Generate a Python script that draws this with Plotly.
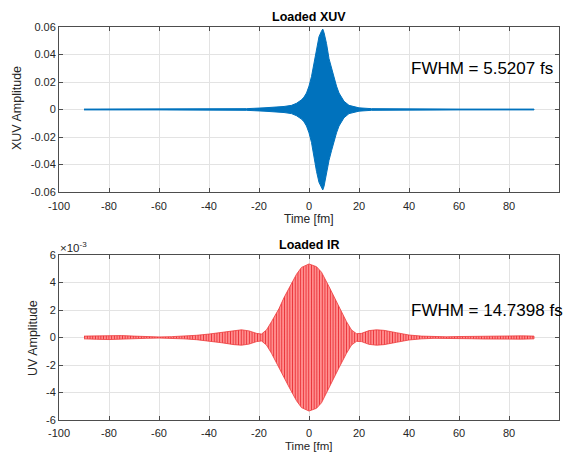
import plotly.graph_objects as go

# Envelope of the loaded XUV field (time in fs, amplitude)
xuv_t = [-90, -60, -40, -25, -18, -14, -10, -7, -5, -3, -2, -1, 0, 1, 2, 3, 4, 5, 5.5,
         6, 7, 8, 9, 10, 11, 12, 13, 14, 16, 18, 20, 25, 40, 60, 90]
xuv_env = [0.0003, 0.0003, 0.0004, 0.0006, 0.0012, 0.0015, 0.0022, 0.0030, 0.0045, 0.0070,
           0.0090, 0.0120, 0.0170, 0.0240, 0.0340, 0.0450, 0.0530, 0.0570, 0.0585,
           0.0560, 0.0480, 0.0370, 0.0300, 0.0230, 0.0170, 0.0120, 0.0090, 0.0060,
           0.0030, 0.0020, 0.0012, 0.0006, 0.0004, 0.0003, 0.0003]

# Envelope of the loaded IR field (time in fs, amplitude in units of 1e-3)
ir_t = [-90, -85, -80, -75, -70, -65, -60, -55, -50, -45, -40, -35, -30, -27, -24, -21,
        -19, -17, -15, -12, -10, -8, -5, -3, 0, 3, 5, 8, 10, 12, 15, 17, 19, 21, 24, 27,
        30, 35, 40, 45, 50, 55, 60, 65, 70, 75, 80, 85, 90]
ir_env_e3 = [0.10, 0.13, 0.15, 0.14, 0.10, 0.06, 0.04, 0.06, 0.10, 0.16, 0.25, 0.38, 0.52,
             0.56, 0.48, 0.30, 0.25, 0.55, 1.15, 2.10, 2.90, 3.60, 4.60, 5.10, 5.35, 5.15,
             4.75, 3.70, 2.95, 2.20, 1.15, 0.55, 0.28, 0.30, 0.50, 0.56, 0.52, 0.35, 0.18,
             0.10, 0.06, 0.05, 0.07, 0.09, 0.11, 0.13, 0.13, 0.12, 0.10]

xuv_fwhm = 5.5207
ir_fwhm = 14.7398

x_ticks = [-100, -80, -60, -40, -20, 0, 20, 40, 60, 80, 100]
xuv_yticks = [-0.06, -0.04, -0.02, 0, 0.02, 0.04, 0.06]
xuv_yticktext = ["-0.06", "-0.04", "-0.02", "0", "0.02", "0.04", "0.06"]
ir_yticks_e3 = [-6, -4, -2, 0, 2, 4, 6]

W, H = 563, 452
ML, MR = 59, 4
PW = W - ML - MR
FONT = "Liberation Sans, Arial, Helvetica, sans-serif"
AXC = "#4d4d4d"
TXT = "#262626"
GRID = "#e3e3e3"


def band(t, env):
    # closed polygon: upper envelope forward, mirrored lower envelope back
    xs = list(t) + list(t[::-1])
    ys = list(env) + [-v for v in env[::-1]]
    return xs, ys


fig = go.Figure()

bx, by = band(xuv_t, xuv_env)
fig.add_trace(go.Scatter(
    x=bx, y=by, fill="toself", mode="lines",
    line=dict(color="#0072BD", width=1), fillcolor="#0072BD",
    xaxis="x", yaxis="y", hoverinfo="skip", showlegend=False))

ir_env = [v * 1e-3 for v in ir_env_e3]
ix, iy = band(ir_t, ir_env)
fig.add_trace(go.Scatter(
    x=ix, y=iy, fill="toself", mode="lines",
    line=dict(color="#ee3a3a", width=0.8),
    fillcolor="#ff8a8a",
    fillpattern=dict(shape="|", size=2.7, solidity=0.3,
                     fgcolor="#e8262c", bgcolor="#ff8e8e", fillmode="replace"),
    xaxis="x2", yaxis="y2", hoverinfo="skip", showlegend=False))


def py_paper(py):
    return 1 - py / H


def px_paper(px):
    return (px - ML) / PW


def xaxis_cfg(anchor, standoff):
    return dict(
        range=[-100, 100], tickvals=x_ticks, ticktext=[str(v) for v in x_ticks],
        showgrid=True, gridcolor=GRID, gridwidth=1, zeroline=False,
        showline=True, linecolor=AXC, linewidth=1, mirror="ticks",
        ticks="inside", ticklen=4, tickcolor=AXC, ticklabelstandoff=standoff,
        tickfont=dict(family=FONT, size=11, color=TXT),
        anchor=anchor, domain=[0, 1])


def yaxis_cfg(anchor, dom, rng, vals, text):
    return dict(
        range=rng, tickvals=vals, ticktext=text, domain=dom, anchor=anchor,
        showgrid=True, gridcolor=GRID, zeroline=False,
        showline=True, linecolor=AXC, linewidth=1, mirror="ticks",
        ticks="inside", ticklen=4, tickcolor=AXC,
        tickfont=dict(family=FONT, size=11, color=TXT))


top_dom = [py_paper(192), py_paper(27)]
bot_dom = [py_paper(420), py_paper(255)]

fig.update_layout(
    width=W, height=H,
    margin=dict(l=ML, r=MR, t=0, b=0, autoexpand=False),
    paper_bgcolor="white", plot_bgcolor="white",
    font=dict(family=FONT, color=TXT),
    xaxis=xaxis_cfg("y", 4),
    xaxis2=xaxis_cfg("y2", 3),
    yaxis=yaxis_cfg("x", top_dom, [-0.06, 0.06], xuv_yticks, xuv_yticktext),
    yaxis2=yaxis_cfg("x2", bot_dom, [-6e-3, 6e-3], [v * 1e-3 for v in ir_yticks_e3],
                     [str(v) for v in ir_yticks_e3]),
)

ann = []


def paper_text(text, xpx, ypx, size, bold=False, angle=0, xanchor="center"):
    ann.append(dict(
        text=f"<b>{text}</b>" if bold else text,
        x=px_paper(xpx), y=py_paper(ypx), xref="paper", yref="paper",
        xanchor=xanchor, yanchor="middle", showarrow=False, textangle=angle,
        font=dict(family=FONT, size=size, color="black" if bold else TXT)))


paper_text("Loaded XUV", 309, 17, 12.5, bold=True)
paper_text("Loaded IR", 309, 245, 12.5, bold=True)
paper_text("Time [fm]", 309, 219, 12)
paper_text("Time [fm]", 309, 445.5, 11.5)
paper_text("XUV Amplitude", 17, 108, 12.5, angle=-90)
paper_text("UV Amplitude", 33, 338, 12.5, angle=-90)
paper_text("×10<sup>-3</sup>", 58, 247, 11.5, xanchor="left")

# FWHM labels placed in data coordinates
ann.append(dict(text=f"FWHM = {xuv_fwhm:.4f} fs", x=40, y=0.03, xref="x", yref="y",
                xanchor="left", yanchor="middle", showarrow=False,
                font=dict(family=FONT, size=17, color="black")))
ann.append(dict(text=f"FWHM = {ir_fwhm:.4f} fs", x=40, y=2e-3, xref="x2", yref="y2",
                xanchor="left", yanchor="middle", showarrow=False,
                font=dict(family=FONT, size=17, color="black")))

fig.update_layout(annotations=ann)
fig.write_html("out.html")
